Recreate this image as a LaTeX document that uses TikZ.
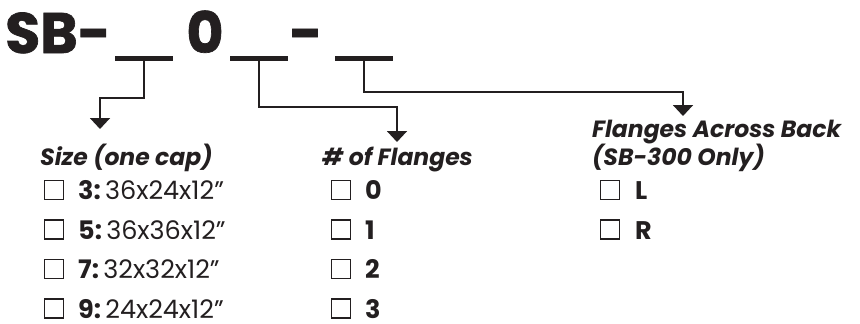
\documentclass[tikz,border=0pt]{standalone}
\usepackage{fontspec}
\setmainfont{Poppins}
\usetikzlibrary{arrows.meta}
\definecolor{ink}{RGB}{35,31,32}
\tikzset{
  blank/.style={rectangle, fill=ink, inner sep=0pt, minimum width=58pt, minimum height=5pt},
  big/.style={text=ink, inner sep=0pt, font=\fontsize{57}{57}\selectfont\bfseries\addfontfeatures{FakeBold=1.2}},
  head/.style={text=ink, inner sep=0pt, font=\fontsize{23.5}{28}\selectfont\bfseries\itshape, anchor=base west, align=left},
  chk/.style={rectangle, draw=ink, line width=1.2pt, minimum size=19pt, inner sep=0pt},
  item/.style={text=ink, inner sep=0pt, text depth=0pt, font=\fontsize{25.5}{25.5}\selectfont, anchor=base west},
  conn/.style={draw=ink, line width=2pt, -{Triangle[width=20pt,length=11pt]}}
}
\begin{document}
\begin{tikzpicture}[x=1pt,y=-1pt]
\useasboundingbox (0,0) rectangle (860,324);
% part number
\node[big, anchor=base west] (sb) at (5,53) {SB-};
\node[big, anchor=base] (zero) at (205,53) {0};
\node[big, anchor=base] (dash) at (306,53) {-};
\node[blank] (blankA) at (144,58.5) {};
\node[blank] (blankB) at (259,58.5) {};
\node[blank] (blankC) at (364,58.5) {};
% arrow ends
\coordinate (tipA) at (100,129);
\coordinate (tipB) at (397,142);
\coordinate (tipC) at (683,116);
\draw[conn] (blankA.south) -- ++(0,37) -| (tipA);
\draw[conn] (blankB.south) -- ++(0,46) -| (tipB);
\draw[conn] (blankC.south) -- ++(0,31) -| (tipC);
% headings
\node[head] (sizeLbl) at (40,165) {Size (one cap)};
\node[head] (flgLbl) at (322,165) {\# of Flanges};
\node[head] (backLbl) at (592,165) {Flanges Across Back\\(SB-300 Only)};
% size options
\foreach \n/\k/\d [count=\i] in {s3/3/36x24x12”, s5/5/36x36x12”, s7/7/32x32x12”, s9/9/24x24x12”}{
  \node[chk] (\n) at (54,{190+39.5*(\i-1)}) {};
  \node[item] at (78,{199.5+39.5*(\i-1)}) {\textbf{\k:}\,\d};
}
% flange options
\foreach \k [count=\i] in {0,1,2,3}{
  \node[chk] (f\k) at (341,{190+39.5*(\i-1)}) {};
  \node[item] at (365,{199.5+39.5*(\i-1)}) {\textbf{\k}};
}
% back options
\foreach \k [count=\i] in {L,R}{
  \node[chk] (b\k) at (610,{190+39.5*(\i-1)}) {};
  \node[item] at (635,{199.5+39.5*(\i-1)}) {\textbf{\k}};
}
\end{tikzpicture}
\end{document}
